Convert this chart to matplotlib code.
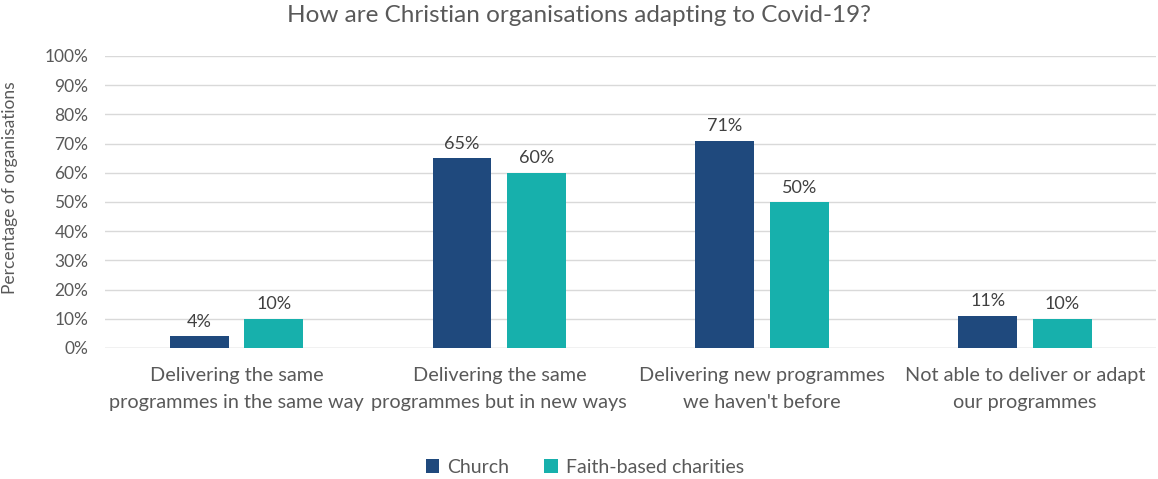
import matplotlib.pyplot as plt
import numpy as np

categories = ['Delivering the same\nprogrammes in the same way',
              'Delivering the same\nprogrammes but in new ways',
              'Delivering new programmes\nwe haven\'t before',
              'Not able to deliver or adapt\nour programmes']
church = [4, 65, 71, 11]
charities = [10, 60, 50, 10]
series_names = ['Church', 'Faith-based charities']

plt.rcParams['font.family'] = ['Lato', 'DejaVu Sans']
txt = '#595959'
c_church = '#1F497D'
c_charity = '#17B0AC'

fig = plt.figure(figsize=(11.58, 4.79), dpi=100)
ax = fig.add_axes([0.0907, 0.2735, 0.908, 0.6096])

x = np.arange(len(categories))
w = 0.224
off = 0.142
b1 = ax.bar(x - off, church, w, color=c_church, label=series_names[0], zorder=3)
b2 = ax.bar(x + off, charities, w, color=c_charity, label=series_names[1], zorder=3)

for bars in (b1, b2):
    for b in bars:
        ax.text(b.get_x() + b.get_width() / 2, b.get_height() + 2.2, f'{b.get_height():.0f}%',
                ha='center', va='bottom', fontsize=13, color='#404040')

ax.set_xlim(-0.5, len(categories) - 0.5)
ax.set_ylim(0, 100)
ax.set_yticks(range(0, 101, 10))
ax.set_yticklabels([f'{v}%' for v in range(0, 101, 10)])
ax.yaxis.grid(True, color='#d9d9d9', lw=1, zorder=0)
ax.set_xticks(x)
ax.set_xticklabels(categories, fontsize=14.3, color=txt)
for lbl in ax.get_xticklabels():
    lbl.set_linespacing(1.65)
ax.tick_params(axis='y', labelsize=12.5, colors=txt, length=0, pad=12)
ax.tick_params(axis='x', length=0, pad=14)
for s in ax.spines.values():
    s.set_visible(False)
ax.axhline(0, color='#d9d9d9', lw=1, zorder=2)

ax.set_ylabel('Percentage of organisations', fontsize=12.5, color=txt)
ax.yaxis.set_label_coords(-0.083, 0.55)
fig.suptitle('How are Christian organisations adapting to Covid-19?', fontsize=17.5,
             color=txt, y=0.99)

fig.legend(handles=[b1, b2], labels=series_names, loc='center', bbox_to_anchor=(0.505, 0.025),
           ncol=2, frameon=False, fontsize=14, handlelength=0.7, handleheight=0.7,
           columnspacing=1.8, handletextpad=0.4, labelcolor=txt)

fig.savefig('out.png', dpi=100)
